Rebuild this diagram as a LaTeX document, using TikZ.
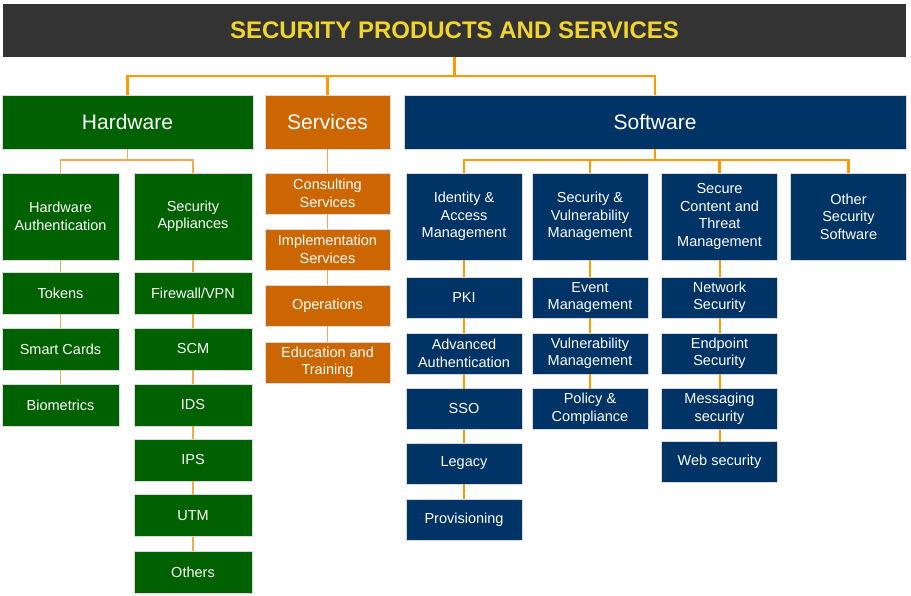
\documentclass[tikz,border=0pt]{standalone}
\usepackage{fontspec}
\setmainfont{Liberation Sans}
\definecolor{titlebg}{RGB}{51,51,51}
\definecolor{titlefg}{RGB}{242,212,46}
\definecolor{hwgreen}{RGB}{0,97,0}
\definecolor{svorange}{RGB}{204,102,0}
\definecolor{swnavy}{RGB}{0,51,102}
\definecolor{conn}{RGB}{255,153,0}
\definecolor{connlight}{RGB}{245,170,80}
\begin{document}
\begin{tikzpicture}[x=1pt,y=-1pt,
  box/.style={rectangle,inner sep=0pt,outer sep=0pt,text=white,align=center,
    font=\fontsize{14.5}{17.5}\selectfont,draw=white!85!black,line width=0.4pt},
  top/.style={font=\fontsize{21}{24}\selectfont,minimum height=54pt},
  hwbox/.style={box,fill=hwgreen},
  svbox/.style={box,fill=svorange},
  swbox/.style={box,fill=swnavy},
  mainline/.style={conn,line width=2.5pt},
  swline/.style={conn,line width=2pt},
  thinline/.style={connlight,line width=1.3pt}]
\useasboundingbox (0,0) rectangle (911,596);
% title
\node[rectangle,fill=titlebg,minimum width=903pt,minimum height=53pt,inner sep=0pt,
  text=titlefg,font=\fontsize{24}{28}\bfseries\selectfont] (title) at (454.5,30.5) {SECURITY PRODUCTS AND SERVICES};
% top level
\node[hwbox,top,minimum width=251pt] (hw) at (127.5,122) {Hardware};
\node[svbox,top,minimum width=125pt] (sv) at (327.5,122) {Services};
\node[swbox,top,minimum width=502pt] (sw) at (655,122) {Software};
\coordinate (bus1) at (0,76);
\coordinate (bus2) at (0,160);
% hardware
\node[hwbox,minimum width=117pt,minimum height=87pt] (ha) at (60.5,216.5) {Hardware\\Authentication};
\node[hwbox,minimum width=118pt,minimum height=87pt] (sa) at (193,216.5) {Security\\Appliances};
\begin{scope}[every node/.style={hwbox,minimum width=117pt,minimum height=42pt}]
\node (tok) at (60.5,293.5) {Tokens};
\node (smc) at (60.5,349) {Smart Cards};
\node (bio) at (60.5,405) {Biometrics};
\end{scope}
\begin{scope}[every node/.style={hwbox,minimum width=118pt,minimum height=42pt}]
\node (fw) at (193,293.5) {Firewall/VPN};
\node (scm) at (193,349) {SCM};
\node (ids) at (193,405) {IDS};
\node (ips) at (193,460) {IPS};
\node (utm) at (193,515.5) {UTM};
\node (oth) at (193,572) {Others};
\end{scope}
% services
\begin{scope}[every node/.style={svbox,minimum width=125pt,minimum height=41pt}]
\node (cons) at (327.5,193.5) {Consulting\\Services};
\node (impl) at (327.5,249.5) {Implementation\\Services};
\node (ops) at (327.5,305.5) {Operations};
\node (edu) at (327.5,362.5) {Education and\\Training};
\end{scope}
% software level 2
\begin{scope}[every node/.style={swbox,minimum width=116pt,minimum height=87pt}]
\node (idm) at (464,216.5) {Identity \&\\Access\\Management};
\node (svm) at (590,216.5) {Security \&\\Vulnerability\\Management};
\node (sct) at (719.5,216.5) {Secure\\Content and\\Threat\\Management};
\node (oss) at (848.5,216.5) {Other\\Security\\Software};
\end{scope}
\begin{scope}[every node/.style={swbox,minimum width=116pt,minimum height=41pt}]
\node (pki) at (464,297.5) {PKI};
\node (adv) at (464,353.5) {Advanced\\Authentication};
\node (sso) at (464,409) {SSO};
\node (leg) at (464,463.5) {Legacy};
\node (prov) at (464,519.5) {Provisioning};
\node (evt) at (590,297.5) {Event\\Management};
\node (vm) at (590,353.5) {Vulnerability\\Management};
\node (pol) at (590,409) {Policy \&\\Compliance};
\node (net) at (719.5,297.5) {Network\\Security};
\node (end) at (719.5,353.5) {Endpoint\\Security};
\node (msg) at (719.5,409) {Messaging\\security};
\node (web) at (719.5,462) {Web security};
\end{scope}
% connectors top
\draw[mainline] (title.south) -- (title.south |- bus1);
\draw[mainline] (hw.north) -- (hw.north |- bus1) -| (sw.north);
\draw[mainline] (sv.north) -- (sv.north |- bus1);
% hardware connectors
\draw[thinline] (hw.south) -- (hw.south |- bus2);
\draw[thinline] (ha.north) -- (ha.north |- bus2) -| (sa.north);
\foreach \a/\b in {ha/tok,tok/smc,smc/bio,sa/fw,fw/scm,scm/ids,ids/ips,ips/utm,utm/oth}
  \draw[thinline] (\a.south) -- (\b.north);
% services connectors
\foreach \a/\b in {sv/cons,cons/impl,impl/ops,ops/edu}
  \draw[thinline] (\a.south) -- (\b.north);
% software connectors
\draw[mainline] (sw.south) -- (sw.south |- bus2);
\draw[mainline] (idm.north) -- (idm.north |- bus2) -| (oss.north);
\draw[mainline] (svm.north) -- (svm.north |- bus2);
\draw[mainline] (sct.north) -- (sct.north |- bus2);
\foreach \a/\b in {idm/pki,pki/adv,adv/sso,sso/leg,leg/prov,svm/evt,evt/vm,vm/pol,sct/net,net/end,end/msg,msg/web}
  \draw[swline] (\a.south) -- (\b.north);
\end{tikzpicture}
\end{document}
